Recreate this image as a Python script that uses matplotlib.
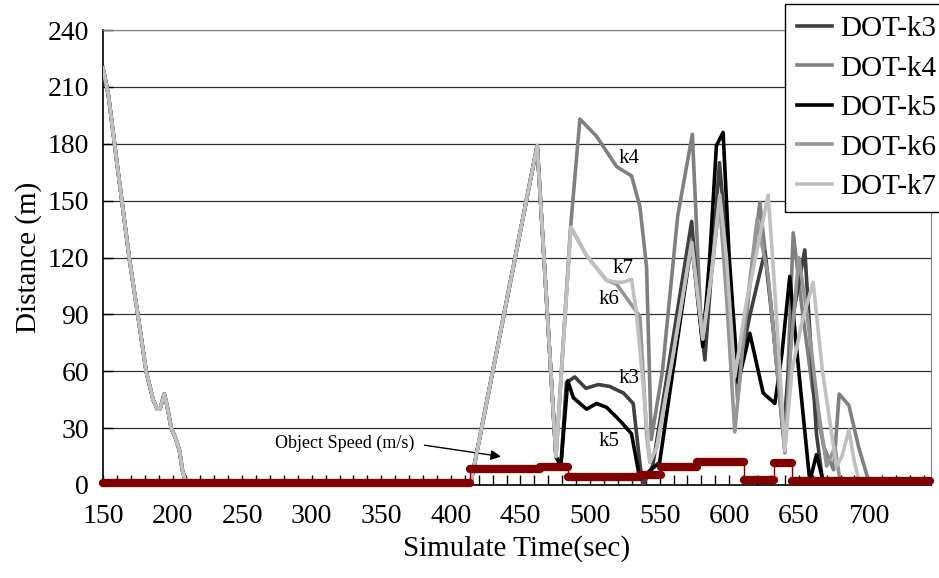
import matplotlib
matplotlib.use("Agg")
import matplotlib.pyplot as plt
import numpy as np

plt.rcParams['font.family'] = ['Liberation Serif', 'DejaVu Serif']

# shared part of every DOT curve (all k values coincide here)
base_t = [150, 154, 160, 169, 176, 181, 186, 189, 191, 194, 196, 199, 202, 205, 207, 210, 414, 462]
base_d = [220, 205, 170, 119, 85, 60, 45, 40, 40, 48, 42, 30, 25, 18, 8, 0, 0, 179]

k3_t = [475.5, 479, 483, 489, 497, 506, 514, 524, 531, 536, 538, 545, 573, 578, 582.5, 588, 593,
        600, 606, 615, 625.6, 632, 638.8, 646, 654.3, 658, 662.7, 667.5, 672]
k3_d = [15, 10, 54, 57, 51, 53, 52, 48.5, 43, 10, 0, 10, 139, 95, 66, 120, 170,
        110, 57, 90, 123, 80, 27, 90, 124, 80, 27, 0, 0]

k4_t = [475.5, 486, 492.7, 504.6, 519, 529.8, 535.8, 540.6, 544, 552, 563, 573.5, 580, 587, 593,
        600, 606, 614, 622, 630, 640, 646, 652, 660, 668, 675, 679, 686, 693, 701]
k4_d = [15, 136, 193, 184, 168, 163, 147, 115, 24, 60, 142, 185, 80, 110, 150,
        110, 45, 100, 149, 95, 17, 133, 95, 50, 20, 8, 48, 42, 20, 0]

k5_t = [475.5, 479, 484, 488, 497.5, 504.6, 511.8, 521.4, 529.8, 535.8, 540.6, 550, 573, 581, 586,
        590.8, 595.6, 600, 606.4, 614.8, 624.4, 632.8, 638, 643.5, 650, 657.9, 662.7, 667.5, 672]
k5_d = [15, 10, 55, 46, 40, 43, 41, 34, 27, 3, 6, 12, 128, 73, 120,
        179, 186, 120, 54, 80, 48.5, 43, 70, 110, 60, 2, 16, 2, 0]

k6_t = [475.5, 486.2, 497.5, 511.8, 519, 529.8, 535.8, 540.6, 543, 548, 560, 573, 581, 587, 593,
        598, 604, 612, 620, 628, 640, 644, 650, 656, 664, 670, 676, 680]
k6_d = [15, 136, 121, 108, 106, 95, 89, 27, 12, 20, 70, 128, 77, 110, 150,
        100, 28, 90, 140, 110, 18, 70, 120, 90, 40, 10, 20, 0]

k7_t = [475.5, 486.2, 497.5, 511.8, 519, 524, 529.8, 533.3, 538, 543, 548, 560, 573, 581, 587,
        593.2, 598, 604, 612, 628, 633, 640, 645, 652, 660.3, 667, 677, 681, 686, 690, 694]
k7_d = [15, 136, 121, 108, 107, 107, 108.5, 91, 54, 12, 20, 70, 128, 77, 110,
        153, 120, 57, 95, 153, 100, 18, 60, 85, 107, 60, 10, 15, 29, 12, 0]

# object speed (m/s), piecewise constant: value holds from speed_t[i] to speed_t[i+1]
speed_t = [150, 414, 464, 484, 536, 551, 577, 610.5, 632, 645, 744]
speed_v = [1, 8.4, 9.6, 4.4, 5.4, 9.6, 12.3, 2.6, 11.4, 2.0, 2.0]

series = [
    ("DOT-k3", k3_t, k3_d, "#404040", 3),
    ("DOT-k4", k4_t, k4_d, "#808080", 2),
    ("DOT-k5", k5_t, k5_d, "#000000", 4),
    ("DOT-k6", k6_t, k6_d, "#969696", 5),
    ("DOT-k7", k7_t, k7_d, "#c0c0c0", 6),
]

fig = plt.figure(figsize=(9.39, 5.78), dpi=100)
ax = fig.add_axes([103 / 939, 93 / 578, 828 / 939, 455 / 578])

handles = []
for name, t, d, col, z in series:
    h, = ax.plot(base_t + t, base_d + d, color=col, lw=2.6, zorder=z,
                 solid_joinstyle='round', label=name)
    handles.append(h)

# speed: thin connectors + thick flat segments
red = "#800000"
ax.plot(speed_t, speed_v, drawstyle='steps-post', color=red, lw=1, zorder=7)
for i in range(len(speed_t) - 1):
    ax.plot([speed_t[i], speed_t[i + 1]], [speed_v[i], speed_v[i]], color=red,
            lw=6, solid_capstyle='round', zorder=8, clip_on=False)

ax.text(324, 22, "Object Speed (m/s)", fontsize=13, ha='center', va='center')
ax.annotate("", xy=(436, 15), xytext=(381, 21),
            arrowprops=dict(arrowstyle='-|>', color='black', lw=1, mutation_scale=15,
                            shrinkA=0, shrinkB=0))

for txt, tx, ty in [("k4", 528, 172), ("k7", 524, 114), ("k6", 513.5, 98),
                    ("k3", 528, 56), ("k5", 514, 23)]:
    ax.text(tx, ty, txt, fontsize=15, ha='center', va='center', zorder=9)

ax.set_xlim(150, 745)
ax.set_ylim(0, 240)
ax.set_xticks(np.arange(150, 701, 50))
ax.set_xticks(np.arange(150, 745, 10), minor=True)
ax.set_yticks(np.arange(0, 241, 30))
ax.yaxis.grid(True, color='#303030', lw=0.9)
ax.set_axisbelow(True)
ax.tick_params(axis='both', which='both', direction='in', length=7, width=1,
               labelsize=20, colors='black')
ax.tick_params(axis='x', which='major', pad=14)
ax.tick_params(axis='y', which='major', pad=10)
ax.tick_params(axis='x', which='minor', labelbottom=False)

for s in ['top', 'right']:
    ax.spines[s].set_color('#808080')
for s in ['left', 'bottom']:
    ax.spines[s].set_color('black')
    ax.spines[s].set_linewidth(1.2)

ax.set_xlabel("Simulate Time(sec)", fontsize=21, labelpad=4)
ax.set_ylabel("Distance (m)", fontsize=21, labelpad=4)

leg = fig.legend(handles=handles, loc='upper left', bbox_to_anchor=(785 / 939, 1 - 4 / 578),
                 fontsize=21, frameon=True, fancybox=False, framealpha=1,
                 edgecolor='black', handlelength=1.2, handletextpad=0.3,
                 labelspacing=0.45, borderpad=0.4, borderaxespad=0)
leg.get_frame().set_linewidth(1)

fig.savefig("out.png", dpi=100)
